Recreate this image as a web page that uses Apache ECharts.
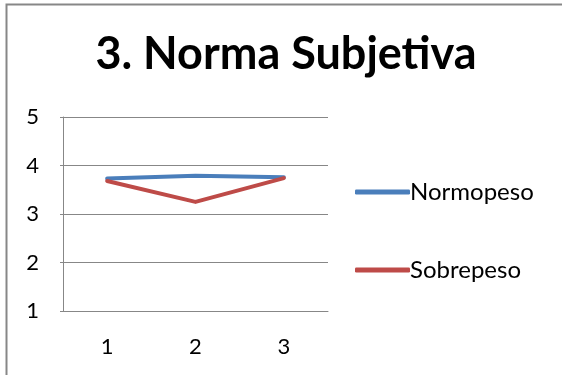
<!DOCTYPE html>
<html>
<head>
<meta charset="utf-8">
<style>
  html, body { margin: 0; padding: 0; background: #ffffff; }
  #chart { width: 562px; height: 375px; }
</style>
<script src="https://cdn.jsdelivr.net/npm/echarts@6/dist/echarts.min.js"></script>
</head>
<body>
<div id="chart"></div>
<script>
// Categories along the x axis
const categories = ['1', '2', '3'];
// Mean scores per group
const normopeso = [3.73, 3.79, 3.76];
const sobrepeso = [3.68, 3.25, 3.74];
// Value axis range
const yMin = 1;
const yMax = 5;
const yStep = 1;

const chart = echarts.init(document.getElementById('chart'), null, { renderer: 'canvas' });

const font = 'Lato, "Open Sans", sans-serif';

chart.setOption({
  backgroundColor: '#ffffff',
  animation: false,
  graphic: [{
    type: 'rect',
    shape: { x: 6.5, y: 4.5, width: 600, height: 400 },
    style: { fill: 'none', stroke: '#878787', lineWidth: 2 },
    silent: true
  }],
  title: {
    text: '3. Norma Subjetiva',
    left: 286,
    textAlign: 'center',
    top: 32,
    padding: 0,
    textStyle: { fontFamily: font, fontWeight: 'bold', fontSize: 45, color: '#000000' }
  },
  legend: {
    orient: 'vertical',
    left: 355,
    top: 180,
    padding: 0,
    itemWidth: 55,
    itemHeight: 5,
    itemGap: 54,
    icon: 'roundRect',
    textStyle: { fontFamily: font, fontSize: 24, color: '#000000', padding: [0, 0, 0, -5] },
    data: ['Normopeso', 'Sobrepeso']
  },
  grid: { left: 63, right: 234, top: 117, bottom: 64 },
  xAxis: {
    type: 'category',
    data: categories,
    boundaryGap: true,
    axisLine: { lineStyle: { color: '#878787', width: 1 } },
    axisTick: { show: false },
    axisLabel: { fontFamily: font, fontSize: 22, color: '#000000', margin: 25 }
  },
  yAxis: {
    type: 'value',
    min: yMin,
    max: yMax,
    interval: yStep,
    axisLine: { show: true, lineStyle: { color: '#878787', width: 1 } },
    axisTick: { show: true, length: 3, lineStyle: { color: '#878787', width: 1 } },
    splitLine: { lineStyle: { color: '#878787', width: 1 } },
    axisLabel: { fontFamily: font, fontSize: 22, color: '#000000', margin: 24 }
  },
  series: [
    {
      name: 'Normopeso',
      type: 'line',
      data: normopeso,
      showSymbol: false,
      symbol: 'none',
      color: '#4a7ebb',
      lineStyle: { width: 4, color: '#4a7ebb', cap: 'round', join: 'round' }
    },
    {
      name: 'Sobrepeso',
      type: 'line',
      data: sobrepeso,
      showSymbol: false,
      symbol: 'none',
      color: '#be4b48',
      lineStyle: { width: 4, color: '#be4b48', cap: 'round', join: 'round' }
    }
  ]
});
</script>
</body>
</html>
